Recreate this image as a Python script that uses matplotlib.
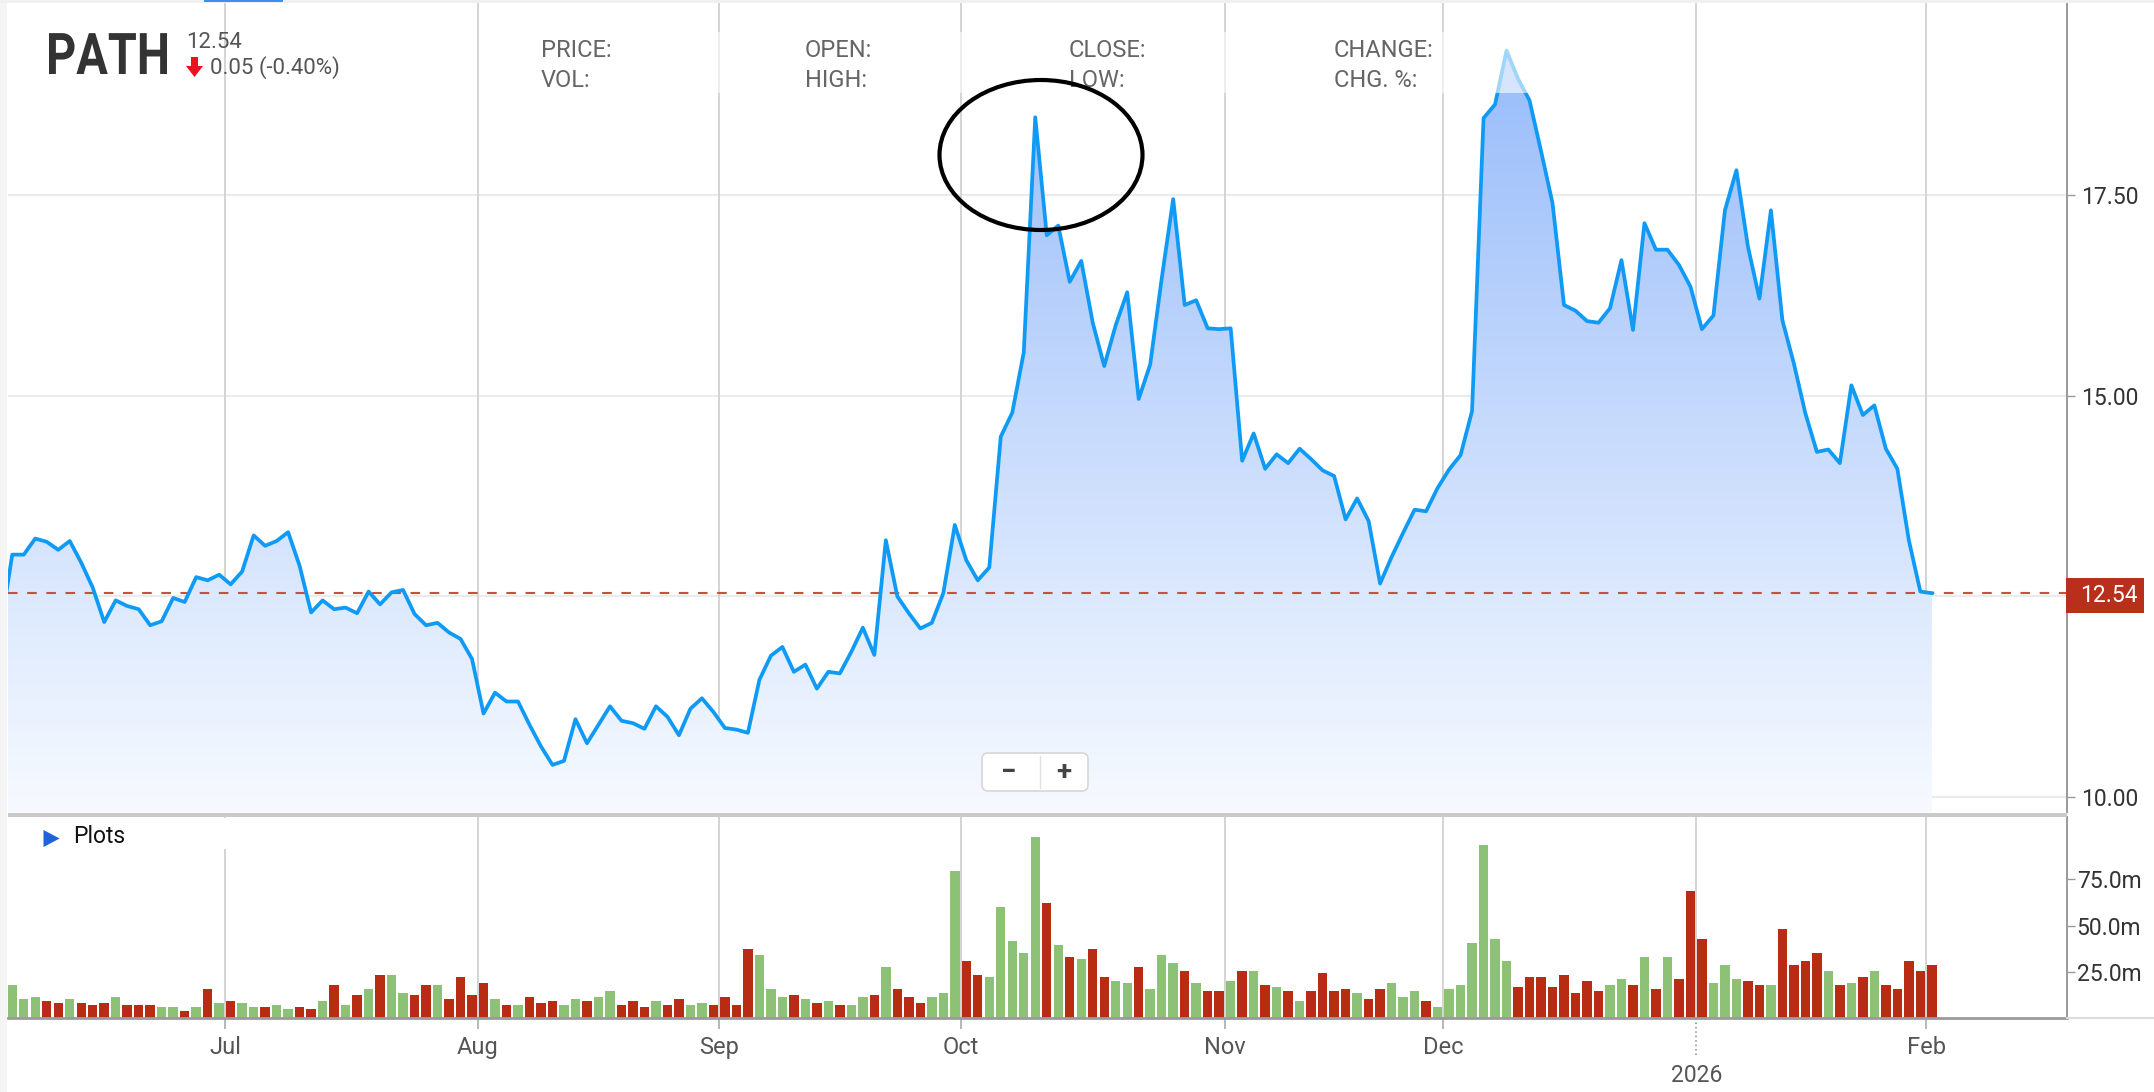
import numpy as np
import pandas as pd
import matplotlib
matplotlib.use('Agg')
import matplotlib.pyplot as plt
from matplotlib.patches import Rectangle, Ellipse, FancyBboxPatch, Polygon, PathPatch
from matplotlib.lines import Line2D
from matplotlib.textpath import TextPath
from matplotlib.font_manager import FontProperties
from matplotlib.transforms import IdentityTransform, Affine2D

plt.rcParams['font.family'] = ['Roboto', 'DejaVu Sans']

# trading days on the chart (Jun 2 only peeks in at the left edge)
holidays = ['2025-06-19', '2025-07-04', '2025-09-01', '2025-11-27',
            '2025-12-25', '2026-01-01', '2026-01-19']
dates = pd.bdate_range('2025-06-02', '2026-02-02')
dates = dates[~dates.isin(pd.to_datetime(holidays))]

# closing prices, month by month
close_jun = [12.10, 13.02, 13.02, 13.22, 13.18, 13.08, 13.19, 12.92, 12.61, 12.18, 12.45,
             12.38, 12.34, 12.14, 12.19, 12.48, 12.43, 12.74, 12.70, 12.77]
close_jul = [12.65, 12.81, 13.26, 13.13, 13.19, 13.30, 12.88, 12.30, 12.45, 12.34, 12.36,
             12.29, 12.56, 12.40, 12.55, 12.58, 12.28, 12.14, 12.17, 12.05, 11.97, 11.72]
close_aug = [11.04, 11.30, 11.19, 11.19, 10.90, 10.63, 10.40, 10.45, 10.97, 10.67, 10.90,
             11.13, 10.95, 10.92, 10.85, 11.13, 11.00, 10.77, 11.10, 11.23, 11.06]
close_sep = [10.86, 10.84, 10.80, 11.46, 11.76, 11.87, 11.56, 11.65, 11.35, 11.56, 11.54,
             11.81, 12.11, 11.77, 13.20, 12.50, 12.29, 12.10, 12.17, 12.54, 13.39]
close_oct = [12.95, 12.70, 12.86, 14.49, 14.79, 15.54, 18.47, 17.00, 17.12, 16.42, 16.68,
             15.91, 15.37, 15.88, 16.29, 14.96, 15.39, 16.46, 17.45, 16.13, 16.19, 15.84, 15.83]
close_nov = [15.84, 14.19, 14.53, 14.09, 14.27, 14.16, 14.34, 14.21, 14.07, 14.00, 13.46,
             13.72, 13.44, 12.66, 12.99, 13.29, 13.58, 13.56, 13.85]
close_dec = [14.08, 14.26, 14.81, 18.46, 18.63, 19.30, 18.95, 18.68, 18.05, 17.40, 16.13,
             16.06, 15.93, 15.91, 16.09, 16.69, 15.82, 17.15, 16.82, 16.82, 16.63, 16.36]
close_jan = [15.83, 16.00, 17.31, 17.81, 16.86, 16.21, 17.31, 15.94, 15.40, 14.78, 14.30,
             14.33, 14.16, 15.13, 14.76, 14.88, 14.34, 14.09, 13.20, 12.56]
close_feb = [12.54]
close = (close_jun + close_jul + close_aug + close_sep + close_oct + close_nov
         + close_dec + close_jan + close_feb)

# volume in millions, from Jun 3 on
vol_jun = [18, 10.4, 11.5, 9.4, 8.3, 10.4, 8.3, 7.2, 8.3, 11.5, 7.2, 7.2, 7.2, 6.1, 6.1,
           4.0, 6.1, 15.8, 8.3]
vol_jul = [9.4, 8.3, 6.1, 6.1, 7.2, 5.0, 6.1, 5.0, 9.4, 18, 7.2, 12.6, 15.8, 23.4, 23.4,
           13.7, 12.6, 18, 18, 10.4, 22.3, 12.6]
vol_aug = [19.1, 10.4, 7.2, 7.2, 11.5, 8.3, 9.4, 7.2, 10.4, 9.4, 11.5, 14.8, 7.2, 9.4, 6.1,
           9.4, 7.2, 10.4, 7.2, 8.3, 7.2]
vol_sep = [11.5, 7.2, 37.4, 34.2, 15.8, 11.5, 12.6, 10.4, 8.3, 9.4, 7.2, 7.2, 11.5, 12.6,
           27.7, 15.8, 11.5, 8.3, 11.5, 13.7, 79.6]
vol_oct = [31, 23.4, 22.3, 60, 41.8, 35.3, 97.9, 62.3, 39.6, 33.1, 32, 37.4, 22.3, 20.2,
           19.1, 27.7, 15.8, 34.2, 29.9, 25.6, 19.1, 14.8, 14.8]
vol_nov = [20.2, 25.6, 25.6, 18, 16.9, 14.8, 9.4, 14.8, 24.5, 14.8, 15.8, 13.7, 10.4, 15.8,
           19.1, 11.5, 14.8, 9.4, 6.1]
vol_dec = [15.8, 18, 40.7, 93.6, 42.8, 31, 16.9, 22.3, 22.3, 16.9, 23.4, 13.7, 20.2, 14.8,
           18, 21.2, 18, 33.1, 15.8, 33.1, 21.2, 68.8]
vol_jan = [42.8, 19.1, 28.8, 21.2, 20.2, 18, 18, 48.2, 28.8, 31, 35.3, 25.6, 18, 19.1,
           22.3, 25.6, 18, 15.8, 31, 25.6]
vol_feb = [28.8]
volume = (vol_jun + vol_jul + vol_aug + vol_sep + vol_oct + vol_nov + vol_dec
          + vol_jan + vol_feb)

# bar colour per day: g = up day, r = down day
updown = ('gggrrgrrrgrrrggrgrg' + 'rggrggrrgrgrgrggrrgrrr' + 'rgrgrrrggrggrrrgrrggr'
          + 'rrrgggrgrgrggrgrrrggg' + 'rrgggggrgrgrrggrgggrgrr' + 'grgrgrgrrrrgrrgggrg'
          + 'ggggggrrrrrrrrggrgrgrr' + 'rgggrrgrrrrgrgrgrrrr' + 'r')

month_starts = ['2025-07-01', '2025-08-01', '2025-09-01', '2025-10-01',
                '2025-11-01', '2025-12-01', '2026-01-01', '2026-02-01']
month_labels = ['Jul', 'Aug', 'Sep', 'Oct', 'Nov', 'Dec', '2026', 'Feb']

x_price = np.arange(len(dates))
x_vol = x_price[1:]
tick_pos = [np.searchsorted(dates, pd.Timestamp(m)) - 0.5 for m in month_starts]

W, H = 2154, 1092
fig = plt.figure(figsize=(W / 100, H / 100), dpi=100)
ID = IdentityTransform()

def P(x, y):
    # reference pixel (top-left origin) -> display coords
    return (x, H - y)

ax = fig.add_axes([8 / W, 1 - 812 / H, 2059 / W, 809 / H])
axv = fig.add_axes([8 / W, 1 - 1018 / H, 2059 / W, 201 / H])
xlim = (0.63, 179.76)

# ---- price panel
ax.set_xlim(xlim)
ax.set_ylim(9.813, 19.894)
for y in [10, 12.5, 15, 17.5]:
    ax.axhline(y, color='#ebebeb', lw=1.5, zorder=0)
for t in tick_pos:
    ax.axvline(t, color='#d4d4d4', lw=1.4, zorder=0)

poly = ax.fill_between(x_price, close, 9.5, color='none', lw=0)
c_lo = np.array([245, 249, 255]) / 255
c_hi = np.array([152, 188, 250]) / 255
g = np.clip((np.linspace(9.813, 19.894, 256) - 10) / 9.3, 0, 1)[:, None]
img = c_lo + g[..., None] * (c_hi - c_lo)
im = ax.imshow(img, extent=[xlim[0], x_price[-1], 9.813, 19.894], origin='lower',
               aspect='auto', zorder=1)
im.set_clip_path(poly.get_paths()[0], ax.transData)

ax.axhline(close[-1], color='#c4523d', lw=1.5, ls=(0, (4.6, 4.6)), zorder=2)
ax.plot(x_price, close, color='#0f9bf5', lw=2.7, zorder=3)

for s in ['top', 'left', 'bottom']:
    ax.spines[s].set_visible(False)
ax.spines['right'].set_color('#9a9a9a')
ax.spines['right'].set_linewidth(1.4)
ax.set_xticks([])
ax.yaxis.tick_right()
ax.set_yticks([10, 15, 17.5])
ax.set_yticklabels(['10.00', '15.00', '17.50'])
ax.tick_params(axis='y', length=6, width=1, color='#999999', pad=4,
               labelsize=16.5, labelcolor='#333333')

# ---- volume panel
axv.set_xlim(xlim)
axv.set_ylim(0, 108.7)
for t in tick_pos:
    axv.axvline(t, color='#d4d4d4', lw=1.4, zorder=0)
bar_col = ['#8cc176' if c == 'g' else '#b72c12' for c in updown]
axv.bar(x_vol, volume, width=0.82, color=bar_col, zorder=2)
for s in ['top', 'left']:
    axv.spines[s].set_visible(False)
axv.spines['right'].set_color('#9a9a9a')
axv.spines['right'].set_linewidth(1.4)
axv.spines['bottom'].set_color('#9a9a9a')
axv.spines['bottom'].set_linewidth(2)
axv.yaxis.tick_right()
axv.set_yticks([25, 50, 75])
axv.set_yticklabels(['25.0m', '50.0m', '75.0m'])
axv.tick_params(axis='y', length=6, width=1, color='#999999', pad=1,
                labelsize=16.5, labelcolor='#333333')
keep = [i for i, m in enumerate(month_labels) if m != '2026']
axv.set_xticks([tick_pos[i] for i in keep])
axv.set_xticklabels([month_labels[i] for i in keep])
axv.tick_params(axis='x', length=8, width=1.2, color='#aaaaaa', pad=5,
                labelsize=17, labelcolor='#555555')
jan = tick_pos[month_labels.index('2026')]
axv.plot([jan, jan], [0, -21], color='#999999', lw=1.2, ls=':', clip_on=False)
axv.text(jan, -31, '2026', ha='center', va='center', fontsize=16.5, color='#555555',
         clip_on=False)

# ---- frame pieces
fig.add_artist(Rectangle(P(0, H), 7, H, transform=ID, fc='#f5f5f5', ec='none'))
fig.add_artist(Rectangle(P(0, 3), W, 3, transform=ID, fc='#f0f0f0', ec='none'))
fig.add_artist(Rectangle(P(204, 2), 79, 2, transform=ID, fc='#3d8ef0', ec='none'))
fig.add_artist(Rectangle(P(8, 817), 2059, 4.5, transform=ID, fc='#c9c9c9', ec='none'))
fig.add_artist(Line2D([2067, W], [H - 1018, H - 1018], transform=ID, color='#dcdcdc', lw=1.5))

# last price tag
ly = ax.transData.transform((0, close[-1]))[1]
fig.add_artist(Rectangle((2066, ly - 20), 78, 35, transform=ID, fc='#b8301b', ec='none'))
fig.text(2080 / W, (ly - 2.5) / H, '12.54', color='white', fontsize=16.5, va='center',
         ha='left')

# header overlay and labels
fig.add_artist(Rectangle(P(530, 93), 1070, 61, transform=ID, fc='white', ec='none',
                         alpha=0.6, zorder=5))
# ticker drawn as a path so it can be squeezed like the condensed original
tp = TextPath((0, 0), 'PATH', size=57.5, prop=FontProperties(family='Roboto', weight='bold'))
ext = tp.get_extents()
sx = 118 / ext.width
fig.add_artist(PathPatch(tp, transform=Affine2D().translate(-ext.x0, 0).scale(sx, 1)
                         .translate(49, H - 74), fc='#333333', ec='none'))
fig.text(186 / W, 1 - 48 / H, '12.54', fontsize=16, color='#555555', va='baseline')
fig.add_artist(Polygon([P(191, 57), P(198, 57), P(198, 66), P(203, 66), P(194.5, 77),
                        P(186, 66), P(191, 66)], closed=True, transform=ID,
                       fc='#e8131e', ec='none'))
fig.text(210 / W, 1 - 74 / H, '0.05 (-0.40%)', fontsize=16, color='#555555', va='baseline')
for x, top, bot in [(541, 'PRICE:', 'VOL:'), (805, 'OPEN:', 'HIGH:'),
                    (1069, 'CLOSE:', 'LOW:'), (1334, 'CHANGE:', 'CHG. %:')]:
    fig.text(x / W, 1 - 57 / H, top, fontsize=17, color='#666666', va='baseline', zorder=6)
    fig.text(x / W, 1 - 87 / H, bot, fontsize=17, color='#666666', va='baseline', zorder=6)

# hand-drawn circle around the October spike
fig.add_artist(Ellipse(P(1041, 155), 203, 150, transform=ID, fill=False, ec='black',
                       lw=3, zorder=7))

# zoom buttons
fig.add_artist(FancyBboxPatch(P(982, 791), 106, 38, boxstyle='round,pad=0,rounding_size=6',
                              transform=ID, fc='white', ec='#d6d6d6', lw=1.2, zorder=6))
fig.add_artist(Line2D([1040, 1040], [H - 788, H - 756], transform=ID, color='#e2e2e2',
                      lw=1, zorder=7))
fig.text(1009 / W, 1 - 772 / H, '\u2212', fontsize=20, fontweight='bold', color='#444444',
         ha='center', va='center', zorder=7)
fig.text(1064 / W, 1 - 772 / H, '+', fontsize=20, fontweight='bold', color='#444444',
         ha='center', va='center', zorder=7)

# "Plots" panel label
fig.add_artist(Rectangle(P(35, 849), 227, 31, transform=ID, fc='white', ec='none', zorder=5))
fig.add_artist(Polygon([P(43.5, 830), P(59.6, 838.5), P(43.5, 847)], closed=True,
                       transform=ID, fc='#1f63d8', ec='none', zorder=6))
fig.text(73 / W, 1 - 843 / H, 'Plots', fontsize=16.5, color='#111111', va='baseline',
         zorder=6)

fig.savefig('out.png', dpi=100)
